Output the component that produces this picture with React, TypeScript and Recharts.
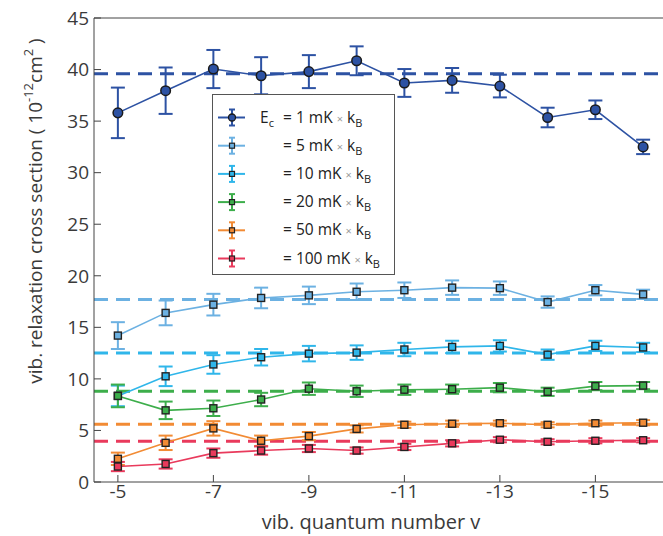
import {
  ErrorBar,
  Line,
  LineChart,
  ReferenceLine,
  XAxis,
  YAxis,
} from "recharts";

const vibLevels = [-5, -6, -7, -8, -9, -10, -11, -12, -13, -14, -15, -16];

const sigma1 = [35.8, 37.95, 40.05, 39.4, 39.8, 40.85, 38.7, 38.95, 38.4, 35.35, 36.1, 32.5];
const err1 = [2.45, 2.25, 1.85, 1.8, 1.6, 1.4, 1.35, 1.2, 1.1, 0.95, 0.9, 0.7];
const sigma5 = [14.2, 16.4, 17.2, 17.85, 18.1, 18.45, 18.6, 18.85, 18.8, 17.45, 18.6, 18.2];
const err5 = [1.3, 1.2, 1.05, 1.0, 0.85, 0.8, 0.75, 0.7, 0.65, 0.55, 0.5, 0.45];
const sigma10 = [8.35, 10.25, 11.4, 12.1, 12.45, 12.55, 12.85, 13.1, 13.2, 12.35, 13.2, 13.05];
const err10 = [1.0, 0.95, 0.9, 0.8, 0.75, 0.7, 0.65, 0.6, 0.55, 0.5, 0.5, 0.45];
const sigma20 = [8.35, 6.95, 7.15, 8.0, 9.05, 8.8, 8.95, 9.0, 9.15, 8.75, 9.3, 9.35];
const err20 = [1.1, 0.85, 0.75, 0.65, 0.6, 0.55, 0.5, 0.45, 0.45, 0.4, 0.4, 0.35];
const sigma50 = [2.25, 3.8, 5.2, 4.0, 4.45, 5.15, 5.55, 5.65, 5.7, 5.55, 5.7, 5.75];
const err50 = [0.6, 0.7, 0.7, 0.5, 0.4, 0.35, 0.3, 0.3, 0.25, 0.25, 0.25, 0.25];
const sigma100 = [1.5, 1.75, 2.8, 3.05, 3.25, 3.05, 3.4, 3.75, 4.1, 3.9, 4.0, 4.05];
const err100 = [0.45, 0.45, 0.45, 0.4, 0.35, 0.3, 0.3, 0.3, 0.25, 0.25, 0.25, 0.2];

// collision energies in mK and the mean cross section for each
const energies = [1, 5, 10, 20, 50, 100];
const averages = [39.6, 17.7, 12.5, 8.8, 5.6, 3.95];
const colors = ["#2d52a3", "#6cb1e2", "#2fb6ea", "#3dae4b", "#f28b34", "#e93a5c"];

const xTicks = [-5, -7, -9, -11, -13, -15];
const yTicks = [0, 5, 10, 15, 20, 25, 30, 35, 40, 45];

const values = [sigma1, sigma5, sigma10, sigma20, sigma50, sigma100];
const errors = [err1, err5, err10, err20, err50, err100];

const chartData = vibLevels.map((v, i) => {
  const row: Record<string, number> = { v };
  energies.forEach((_, s) => {
    row[`s${s}`] = values[s][i];
    row[`e${s}`] = errors[s][i];
  });
  return row;
});

const FONT = "'Open Sans', sans-serif";
const TEXT = "#3a3a3a";

function makeDot(s: number) {
  return (props: any) => {
    const { cx, cy, index } = props;
    if (s === 0) {
      return (
        <circle key={index} cx={cx} cy={cy} r={4.8} fill={colors[0]} stroke="#1a1a1a" strokeWidth={1.5} />
      );
    }
    return (
      <rect
        key={index}
        x={cx - 3.5}
        y={cy - 3.5}
        width={7}
        height={7}
        fill={colors[s]}
        stroke="#222"
        strokeWidth={1.4}
      />
    );
  };
}

function LegendBox() {
  return (
    <svg
      width={184}
      height={182}
      style={{ position: "absolute", left: 212, top: 94, fontFamily: FONT }}
    >
      <rect x={0.5} y={0.5} width={182} height={180} fill="#fff" stroke="#555" strokeWidth={1} />
      {energies.map((en, s) => {
        const cy = 23.5 + s * 28.2;
        return (
          <g key={en}>
            <line x1={6} x2={33} y1={cy} y2={cy} stroke={colors[s]} strokeWidth={2} />
            <line x1={20} x2={20} y1={cy - 8} y2={cy + 8} stroke={colors[s]} strokeWidth={2} />
            <line x1={17} x2={23} y1={cy - 8} y2={cy - 8} stroke={colors[s]} strokeWidth={2} />
            <line x1={17} x2={23} y1={cy + 8} y2={cy + 8} stroke={colors[s]} strokeWidth={2} />
            {s === 0 ? (
              <circle cx={20} cy={cy} r={3.5} fill={colors[0]} stroke="#1a1a1a" strokeWidth={1.3} />
            ) : (
              <rect x={17.5} y={cy - 2.5} width={5} height={5} fill={colors[s]} stroke="#222" strokeWidth={1.2} />
            )}
            {s === 0 && (
              <text x={48} y={cy + 5} fontSize={15.5} fill="#222">
                E<tspan fontSize={11} dy={4}>c</tspan>
              </text>
            )}
            <text x={71} y={cy + 5} fontSize={15.5} fill="#222">
              = {en} mK{" "}
              <tspan fill="#999" fontSize={11}>×</tspan> k
              <tspan fontSize={11} dy={4}>B</tspan>
            </text>
          </g>
        );
      })}
    </svg>
  );
}

export default function App() {
  return (
    <div
      style={{
        position: "absolute",
        left: 0,
        top: 0,
        width: 663,
        height: 536,
        overflow: "hidden",
        background: "#fff",
      }}
    >
      <LineChart
        width={669}
        height={536}
        data={chartData}
        margin={{ top: 17, right: 0, bottom: 0, left: 0 }}
        style={{ fontFamily: FONT }}
      >
        <XAxis
          xAxisId="bottom"
          orientation="bottom"
          dataKey="v"
          type="number"
          domain={[-16.5, -4.5]}
          reversed
          ticks={xTicks}
          height={54}
          stroke="#444"
          tickSize={-7}
          tickMargin={10}
          tick={{ fill: TEXT, fontSize: 19 }}
          allowDataOverflow
        />
        <XAxis
          xAxisId="top"
          orientation="top"
          dataKey="v"
          type="number"
          domain={[-16.5, -4.5]}
          reversed
          ticks={xTicks}
          height={1}
          stroke="#444"
          tickSize={-7}
          tick={false}
          allowDataOverflow
        />
        <YAxis
          yAxisId="left"
          type="number"
          domain={[0, 45]}
          ticks={yTicks}
          width={94}
          stroke="#444"
          tickSize={-7}
          tickMargin={12}
          tick={{ fill: TEXT, fontSize: 19 }}
        />
        <YAxis
          yAxisId="right"
          orientation="right"
          type="number"
          domain={[0, 45]}
          ticks={yTicks}
          width={2}
          stroke="#444"
          tickSize={-7}
          tick={false}
        />
        {averages.map((a, s) => (
          <ReferenceLine
            key={`avg${s}`}
            xAxisId="bottom"
            yAxisId="left"
            y={a}
            stroke={colors[s]}
            strokeWidth={3}
            strokeDasharray="14 8"
          />
        ))}
        {energies.map((en, s) => (
          <Line
            key={en}
            xAxisId="bottom"
            yAxisId="left"
            dataKey={`s${s}`}
            stroke={colors[s]}
            strokeWidth={1.6}
            dot={makeDot(s)}
            isAnimationActive={false}
          >
            <ErrorBar dataKey={`e${s}`} width={7} strokeWidth={2} stroke={colors[s]} direction="y" />
          </Line>
        ))}
        <text
          transform="translate(41.5, 211) rotate(-90)"
          textAnchor="middle"
          fontSize={19}
          fill={TEXT}
          fontFamily={FONT}
        >
          vib. relaxation cross section ( 10
          <tspan dy={-9} fontSize={13}>-12</tspan>
          <tspan dy={9}>cm</tspan>
          <tspan dy={-9} fontSize={13}>2</tspan>
          <tspan dy={9}> )</tspan>
        </text>
        <text x={371} y={529} textAnchor="middle" fontSize={20} fill={TEXT} fontFamily={FONT}>
          vib. quantum number v
        </text>
      </LineChart>
      <LegendBox />
    </div>
  );
}
